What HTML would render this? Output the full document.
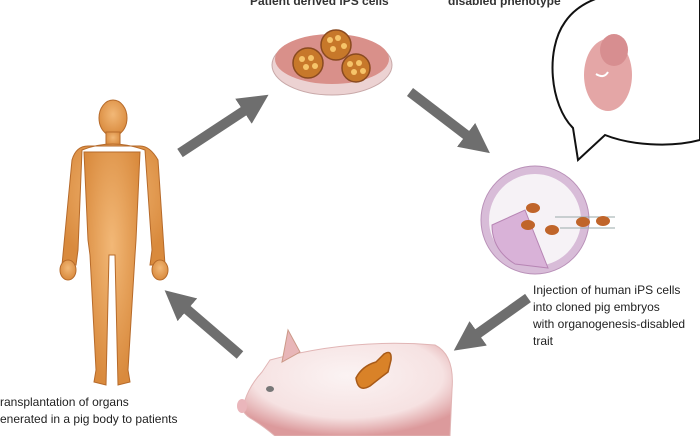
<!DOCTYPE html>
<html><head><meta charset="utf-8"><style>
html,body{margin:0;padding:0;background:#fff;}
svg{display:block;font-family:"Liberation Sans",Arial,sans-serif;}
</style></head><body>
<svg width="700" height="436" viewBox="0 0 700 436" xmlns="http://www.w3.org/2000/svg">
<defs>
<marker id="ah" markerWidth="3" markerHeight="3" refX="1.5" refY="1.5" orient="auto" markerUnits="strokeWidth">
<path d="M0,0 L3,1.5 L0,3 z" fill="#6e6e6e"/></marker>
<radialGradient id="skin" cx="50%" cy="40%" r="60%"><stop offset="0" stop-color="#f2b877"/><stop offset="1" stop-color="#d98a3d"/></radialGradient>
<radialGradient id="pigg" cx="50%" cy="35%" r="65%"><stop offset="0" stop-color="#fbf3f3"/><stop offset="0.7" stop-color="#f6e2e2"/><stop offset="1" stop-color="#dc9a9c"/></radialGradient>
</defs>
<rect width="700" height="436" fill="#fff"/>
<text x="250" y="5" font-size="12" font-weight="bold" fill="#333">Patient derived iPS cells</text>
<text x="448" y="5" font-size="12" font-weight="bold" fill="#333">disabled phenotype</text>
<ellipse cx="332" cy="65" rx="60" ry="30" fill="#ecd2d2" stroke="#c8a8a8"/>
<ellipse cx="332" cy="59" rx="57" ry="25" fill="#d9908a"/>
<g fill="#c7782a" stroke="#8a4a20" stroke-width="1.5">
<circle cx="336" cy="45" r="15"/><circle cx="308" cy="63" r="15"/><circle cx="356" cy="68" r="14"/></g>
<g fill="#f6c46a">
<circle cx="330" cy="40" r="3"/><circle cx="338" cy="38" r="3"/><circle cx="344" cy="46" r="3"/><circle cx="333" cy="49" r="3"/>
<circle cx="302" cy="59" r="3"/><circle cx="311" cy="58" r="3"/><circle cx="306" cy="67" r="3"/><circle cx="315" cy="66" r="3"/>
<circle cx="350" cy="64" r="3"/><circle cx="359" cy="63" r="3"/><circle cx="354" cy="72" r="3"/><circle cx="363" cy="71" r="3"/></g>
<g stroke="#6e6e6e" stroke-width="10" fill="none" marker-end="url(#ah)">
<line x1="180" y1="153" x2="256" y2="103"/>
<line x1="410" y1="92" x2="478" y2="144"/>
<line x1="528" y1="298" x2="466" y2="342"/>
<line x1="240" y1="355" x2="176" y2="300"/>
</g>
<!-- speech bubble -->
<path d="M578,160 L573,128 C550,105 545,50 565,22 C580,0 610,-10 650,-8 L700,-8 L700,140 C670,148 630,145 605,135 Z" fill="#fff" stroke="#111" stroke-width="2"/>
<ellipse cx="608" cy="75" rx="24" ry="36" fill="#e4a6a6"/>
<ellipse cx="614" cy="50" rx="14" ry="16" fill="#d78e90"/>
<path d="M596,74 q8,5 12,-2" stroke="#fff" stroke-width="2" fill="none"/>
<!-- embryo -->
<circle cx="535" cy="220" r="50" fill="#f6f2f6" stroke="#d8bcd8" stroke-width="8"/>
<circle cx="535" cy="220" r="54" fill="none" stroke="#b990b8" stroke-width="1"/>
<path d="M492,225 L525,210 L548,268 L515,264 Q492,250 492,225 Z" fill="#d9b2d8" stroke="#b785b4"/>
<line x1="555" y1="217" x2="615" y2="217" stroke="#9aa"/><line x1="560" y1="228" x2="615" y2="228" stroke="#9aa"/>
<g fill="#c0652a"><ellipse cx="533" cy="208" rx="7" ry="5"/><ellipse cx="528" cy="225" rx="7" ry="5"/><ellipse cx="552" cy="230" rx="7" ry="5"/><ellipse cx="583" cy="222" rx="7" ry="5"/><ellipse cx="603" cy="221" rx="7" ry="5"/></g>
<g font-size="12" fill="#222">
<text x="533" y="294">Injection of human iPS cells</text>
<text x="533" y="311">into cloned pig embryos</text>
<text x="533" y="328">with organogenesis-disabled</text>
<text x="533" y="345">trait</text></g>
<!-- human -->
<g fill="url(#skin)" stroke="#b66a2a" stroke-width="1">
<ellipse cx="113" cy="118" rx="14" ry="18"/>
<rect x="106" y="132" width="14" height="14"/>
<path d="M82,150 Q112,138 145,150 L152,250 L150,265 L165,265 L158,160 Q150,146 140,146 L88,146 Q76,146 72,160 L62,265 L76,265 L78,250 Z"/>
<path d="M84,152 L140,152 L136,240 L135,255 L128,370 L130,382 L118,385 L115,255 L109,255 L106,385 L94,382 L96,370 L90,255 L88,240 Z"/>
<ellipse cx="68" cy="270" rx="8" ry="10"/><ellipse cx="160" cy="270" rx="8" ry="10"/>
</g>
<text x="0" y="406" font-size="12" fill="#222">ransplantation of organs</text>
<text x="0" y="423" font-size="12" fill="#222">enerated in a pig body to patients</text>
<!-- pig -->
<path d="M270,360 Q350,338 435,345 Q455,355 452,390 L450,436 L275,436 Q262,425 250,418 Q238,410 245,400 Q250,385 262,372 Z" fill="url(#pigg)" stroke="#e1b5b5"/>
<path d="M282,362 L288,330 L300,352 Z" fill="#e8b6b8" stroke="#c98"/>
<ellipse cx="242" cy="406" rx="5" ry="7" fill="#eab6bb"/>
<ellipse cx="270" cy="389" rx="4" ry="3" fill="#777"/>
<path d="M356,378 Q362,366 376,362 L384,354 Q392,349 391,360 L388,372 Q380,378 370,386 Q358,393 356,378 Z" fill="#d98228" stroke="#a85a18" stroke-width="1.5"/>
</svg>
</body></html>
